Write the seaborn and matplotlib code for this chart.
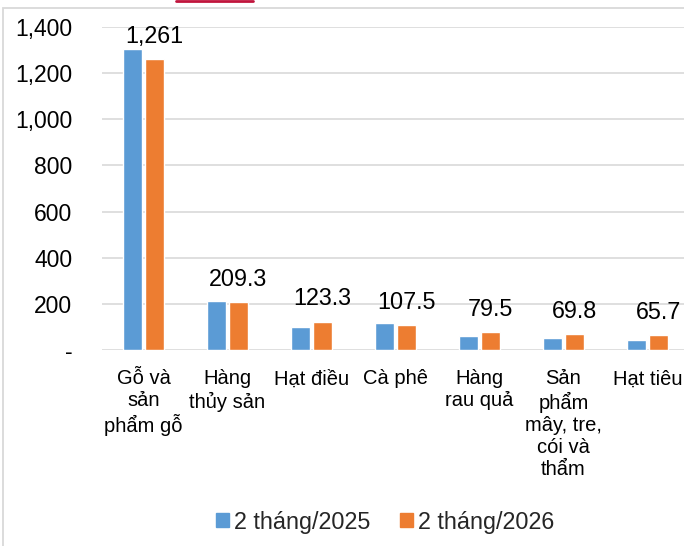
import pandas as pd
import numpy as np
import matplotlib
matplotlib.use('Agg')
import matplotlib.pyplot as plt
import matplotlib.ticker as ticker
import matplotlib.patches as mpatches
from matplotlib.lines import Line2D
import seaborn as sns

categories = ['Gỗ và\nsản\nphẩm gỗ', 'Hàng\nthủy sản', 'Hạt điều', 'Cà phê',
              'Hàng\nrau quả', 'Sản\nphẩm\nmây, tre,\ncói và\nthẩm', 'Hạt tiêu']
series = ['2 tháng/2025', '2 tháng/2026']
values_2025 = [1305, 213, 100, 119, 61, 52, 42]
values_2026 = [1261, 209.3, 123.3, 107.5, 79.5, 69.8, 65.7]
labels_2026 = ['1,261', '209.3', '123.3', '107.5', '79.5', '69.8', '65.7']
colors = ['#5B9BD5', '#ED7D31']

df = pd.DataFrame({
    'cat': categories * 2,
    'value': values_2025 + values_2026,
    'series': [series[0]] * 7 + [series[1]] * 7,
})

sns.set_style('white')
plt.rcParams['font.family'] = ['Liberation Sans', 'DejaVu Sans']

W, H = 684, 546
fig = plt.figure(figsize=(W / 100, H / 100), dpi=100)
ax = fig.add_axes([101.5 / W, 196 / H, 588 / W, 323 / H])

sns.barplot(data=df, x='cat', y='value', hue='series', palette=colors,
            width=0.52, gap=0.1, ax=ax, legend=False, saturation=1)

ax.set_ylim(0, 1400)
ax.set_xlim(-0.5, 6.5)
ax.yaxis.set_major_locator(ticker.MultipleLocator(200))
ax.yaxis.set_major_formatter(ticker.FuncFormatter(lambda v, p: '-' if v == 0 else f'{v:,.0f}'))
ax.grid(axis='y', color='#d9d9d9', lw=1.2)
ax.set_axisbelow(True)
for s in ax.spines.values():
    s.set_visible(False)
ax.tick_params(axis='y', length=0, pad=21, labelsize=16.5, labelcolor='black')
ax.tick_params(axis='x', length=0, pad=14, labelsize=14.5, labelcolor='black')
for t in ax.get_xticklabels():
    t.set_linespacing(1.2)
    t.set_verticalalignment('top')
ax.set_xlabel('')
ax.set_ylabel('')

# labels on 2026 bars
cont = ax.containers[1]
for bar, lab in zip(cont, labels_2026):
    ax.annotate(lab, (bar.get_x() + bar.get_width() / 2, bar.get_height()),
                xytext=(0, 8), textcoords='offset points', ha='center', va='bottom',
                fontsize=16.8, color='black')

handles = [mpatches.Patch(color=c, label=s) for c, s in zip(colors, series)]
fig.legend(handles=handles, loc='center', bbox_to_anchor=(385 / W, 24 / H), ncol=2,
           frameon=False, fontsize=16.8, handlelength=0.55, handleheight=0.55,
           handletextpad=0.2, columnspacing=1.3)

# chart frame and top mark
fig.add_artist(mpatches.Rectangle((3 / W, -0.05), 1.2, 1 - 8 / H + 0.05, transform=fig.transFigure,
                                  fill=False, edgecolor='#d9d9d9', lw=1.3))
fig.add_artist(Line2D([176 / W, 253 / W], [1 - 0.5 / H, 1 - 0.5 / H], transform=fig.transFigure,
                      color='#c0143c', lw=2))

fig.savefig('out.png', dpi=100)
